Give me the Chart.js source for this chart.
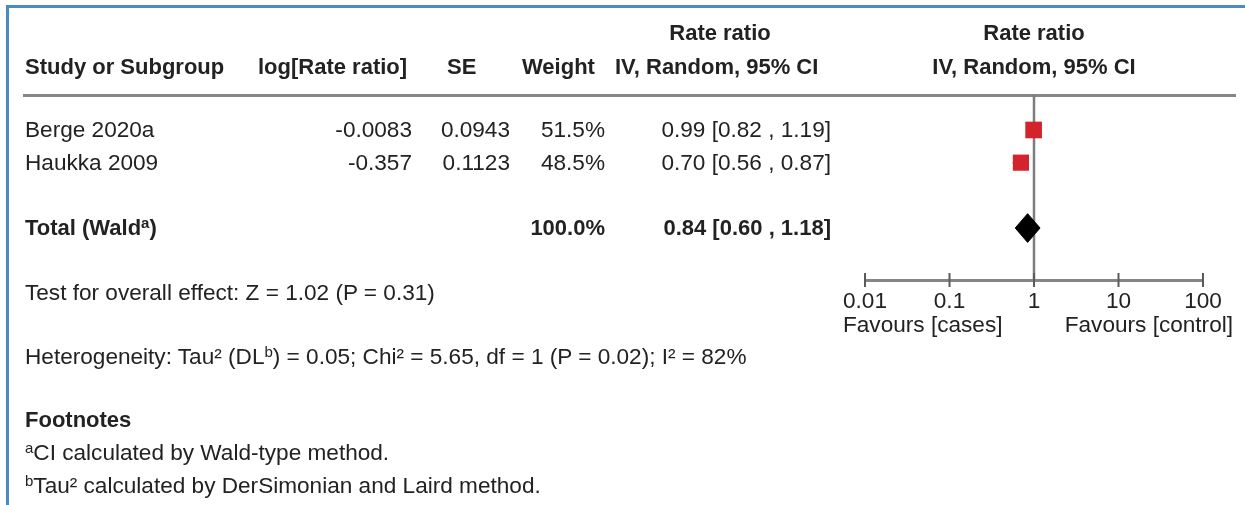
<!DOCTYPE html>
<html>
<head>
<meta charset="utf-8">
<script src="https://cdn.jsdelivr.net/npm/chart.js@4.4.1/dist/chart.umd.min.js"></script>
<style>
  html, body { margin: 0; padding: 0; background: #fff; }
  #wrap { position: relative; width: 1245px; height: 505px; overflow: hidden;
          font-family: "Liberation Sans", Arial, sans-serif; color: #222; }
  #plot { position: absolute; left: 0; top: 0; }
  .t { position: absolute; font-size: 22.6px; line-height: 26px; white-space: nowrap; }
  .b { font-weight: bold; font-size: 22px; }
  .frameTop  { position: absolute; left: 6px; top: 5px; width: 1239px; height: 3px; background: #4a8cbf; }
  .frameLeft { position: absolute; left: 6px; top: 5px; width: 3px; height: 500px; background: #4a8cbf; }
  .rule { position: absolute; left: 23px; top: 94px; width: 1213px; height: 3px; background: #8a8684; }
  sup { font-size: 15px; line-height: 0; vertical-align: 7px; }
</style>
</head>
<body>
<div id="wrap">
  <div class="frameTop"></div>
  <div class="frameLeft"></div>
  <div class="rule"></div>
  <canvas id="plot" width="1245" height="505"></canvas>
</div>
<script>
// Study rows
const studies    = ['Berge 2020a', 'Haukka 2009'];
const logRR      = [-0.0083, -0.357];
const stdErr     = [0.0943, 0.1123];
const weights    = [51.5, 48.5];
const rateRatio  = [0.99, 0.70];
const ciLower    = [0.82, 0.56];
const ciUpper    = [1.19, 0.87];

// Pooled estimate (random effects)
const totalWeight = 100.0;
const totalRR     = 0.84;
const totalLower  = 0.60;
const totalUpper  = 1.18;

// Summary statistics
const zValue = 1.02, zP = 0.31;
const tau2 = 0.05, chi2 = 5.65, dfHet = 1, hetP = 0.02, i2 = 82;

// Log axis ticks
const tickValues = [0.01, 0.1, 1, 10, 100];
const tickLabels = ['0.01', '0.1', '1', '10', '100'];

const W = 1245;
const wrap = document.getElementById('wrap');

// Row positions on the y scale (1, 2 for studies, 4 for the total)
const studyRows = studies.map((s, i) => i + 1);
const totalRow = 4;
const yMin = -0.07, yMax = 5.59;
const diamondHalf = 0.44;

const fmt2 = v => v.toFixed(2);
const ciText = (r, lo, hi) => `${fmt2(r)} [${fmt2(lo)} , ${fmt2(hi)}]`;

// Higher "order" is painted first (underneath)
const chart = new Chart(document.getElementById('plot'), {
  type: 'scatter',
  data: {
    datasets: [
      // line of no effect
      { order: 10, data: [{ x: 1, y: yMin }, { x: 1, y: yMax }], showLine: true,
        borderColor: '#7d7d7d', borderWidth: 2.5, pointRadius: 0 },
      // tick marks crossing the axis line
      { order: 9, data: tickValues.map(v => ({ x: v, y: yMax })),
        pointStyle: 'line', pointRotation: 90, pointRadius: 7,
        pointBorderColor: '#5a5a5a', pointBorderWidth: 2, showLine: false, clip: false },
      // confidence intervals
      ...studies.map((s, i) => ({
        order: 8,
        data: [{ x: ciLower[i], y: studyRows[i] }, { x: ciUpper[i], y: studyRows[i] }],
        showLine: true, borderColor: '#222', borderWidth: 1.5, pointRadius: 0
      })),
      // study estimates, sized by weight
      { order: 2, data: studies.map((s, i) => ({ x: rateRatio[i], y: studyRows[i] })),
        pointStyle: 'rect', pointRadius: weights.map(w => 1.64 * Math.sqrt(w)),
        pointBackgroundColor: '#d3232b', pointBorderWidth: 0, showLine: false },
      // pooled diamond
      { order: 1, data: [
          { x: totalLower, y: totalRow },
          { x: totalRR, y: totalRow - diamondHalf },
          { x: totalUpper, y: totalRow },
          { x: totalRR, y: totalRow + diamondHalf },
          { x: totalLower, y: totalRow }
        ],
        showLine: true, fill: 'shape', backgroundColor: '#000', borderColor: '#000',
        borderWidth: 1, pointRadius: 0, tension: 0 }
    ]
  },
  options: {
    responsive: false,
    animation: false,
    devicePixelRatio: 1,
    events: [],
    layout: { padding: { left: 865, right: 42, top: 95, bottom: 185 } },
    plugins: { legend: { display: false }, tooltip: { enabled: false } },
    scales: {
      x: {
        type: 'logarithmic', min: 0.01, max: 100, position: 'bottom',
        afterBuildTicks: s => { s.ticks = tickValues.map(v => ({ value: v })); },
        afterFit: s => { s.height = 40; },
        ticks: {
          autoSkip: false, maxRotation: 0, padding: 8, color: '#222',
          font: { family: 'Liberation Sans', size: 22.6 },
          callback: (v, i) => tickLabels[i]
        },
        grid: { display: true, drawOnChartArea: false, drawTicks: false },
        border: { display: true, color: '#858585', width: 3 }
      },
      y: { type: 'linear', min: yMin, max: yMax, reverse: true, display: false }
    }
  }
});

function put(html, x, yc, align, cls) {
  const d = document.createElement('div');
  d.className = 't' + (cls ? ' ' + cls : '');
  d.innerHTML = html;
  d.style.top = (yc - 13) + 'px';
  if (align === 'right') d.style.right = (W - x) + 'px';
  else if (align === 'center') { d.style.left = x + 'px'; d.style.transform = 'translateX(-50%)'; }
  else d.style.left = x + 'px';
  wrap.appendChild(d);
}

// Column headers
put('Rate ratio', 720, 33, 'center', 'b');
put('Rate ratio', 1034, 33, 'center', 'b');
put('Study or Subgroup', 25, 67, 'left', 'b');
put('log[Rate ratio]', 258, 67, 'left', 'b');
put('SE', 447, 67, 'left', 'b');
put('Weight', 522, 67, 'left', 'b');
put('IV, Random, 95% CI', 615, 67, 'left', 'b');
put('IV, Random, 95% CI', 1034, 67, 'center', 'b');

// Study rows, aligned to the marker rows of the plot
const yScale = chart.scales.y;
studies.forEach((s, i) => {
  const yc = yScale.getPixelForValue(studyRows[i]);
  put(s, 25, yc, 'left');
  put(String(logRR[i]), 412, yc, 'right');
  put(String(stdErr[i]), 510, yc, 'right');
  put(weights[i].toFixed(1) + '%', 605, yc, 'right');
  put(ciText(rateRatio[i], ciLower[i], ciUpper[i]), 831, yc, 'right');
});

// Total row
const yTot = yScale.getPixelForValue(totalRow);
put('Total (Wald<sup>a</sup>)', 25, yTot, 'left', 'b');
put(totalWeight.toFixed(1) + '%', 605, yTot, 'right', 'b');
put(ciText(totalRR, totalLower, totalUpper), 831, yTot, 'right', 'b');

// Statistics and footnotes
put(`Test for overall effect: Z = ${zValue.toFixed(2)} (P = ${zP.toFixed(2)})`, 25, 293, 'left');
put(`Heterogeneity: Tau² (DL<sup>b</sup>) = ${tau2.toFixed(2)}; Chi² = ${chi2.toFixed(2)}, df = ${dfHet} (P = ${hetP.toFixed(2)}); I² = ${i2}%`, 25, 357, 'left');
put('Footnotes', 25, 420, 'left', 'b');
put('<sup>a</sup>CI calculated by Wald-type method.', 25, 453, 'left');
put('<sup>b</sup>Tau² calculated by DerSimonian and Laird method.', 25, 486, 'left');

// Axis direction labels
put('Favours [cases]', 843, 325, 'left');
put('Favours [control]', 1233, 325, 'right');
</script>
</body>
</html>
